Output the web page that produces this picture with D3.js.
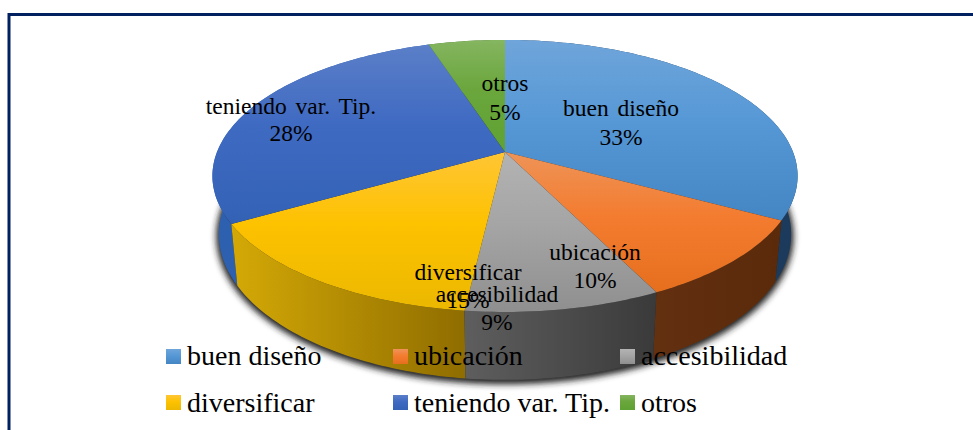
<!DOCTYPE html>
<html>
<head>
<meta charset="utf-8">
<script src="https://cdnjs.cloudflare.com/ajax/libs/d3/7.8.5/d3.min.js"></script>
<style>
  html, body { margin: 0; padding: 0; background: #fff; }
  svg { display: block; }
  text { font-family: "Liberation Serif", "Times New Roman", serif; fill: #000; }
</style>
</head>
<body>
<svg></svg>
<script>
const categories = ['buen diseño', 'ubicación', 'accesibilidad', 'diversificar', 'teniendo var. Tip.', 'otros'];
const shares = [32.9, 9.8, 9.15, 14.85, 28.3, 5];

const topLight = ['#6fa5da', '#ee9458', '#b3b3b3', '#ffc535', '#5b7fc8', '#85b560'];
const topMid = ['#5698d6', '#f37c30', '#a5a5a5', '#fdc200', '#3f6ac2', '#6aa63c'];
const topDark = ['#4485c4', '#e66f1e', '#8f8f8f', '#ebb800', '#3362b5', '#5fa232'];
const sideLeft = ['#1f3f60', '#633010', '#5e5e5e', '#d4a906', '#2e60b0', '#3f6b20'];
const sideRight = ['#1b3a5c', '#5a2a0b', '#3a3a3a', '#8f6d00', '#2e60b0', '#3f6b20'];

// label centres, [x, first baseline, second baseline]
const labelSpots = [[621, 116, 145], [595, 260, 288], [497, 302, 330], [468, 280, 308], [291, 114, 141], [505, 91, 120]];
const legendCols = [166, 393, 620];
const legendRows = [349, 395];
const legendBaselines = [365, 412];

const width = 973, height = 430;
const cx = 505, cy = 152;

// the disc is drawn in perspective, near edge bigger than far edge
const k = 0.176, A = 288, B = 131.8;
function topPoint(a) {
    let u = Math.sin(a), v = -Math.cos(a), w = 1 - k * v;
    return [cx + A * u / w, cy + B * v / w];
}
function bottomPoint(a) {
    let p = topPoint(a);
    return [cx + (p[0] - cx) * 0.978, p[1] + 56.7 + 0.07 * (p[1] - cy)];
}
function arcSteps(a0, a1) {
    let n = Math.ceil((a1 - a0) / 0.02);
    return d3.range(n + 1).map(i => a0 + (a1 - a0) * i / n);
}

const svg = d3.select('svg').attr('width', width).attr('height', height);
const defs = svg.append('defs');
const line = d3.line();

const slices = d3.pie().sort(null).value(d => d)(shares);

slices.forEach((s, i) => {
    let top = defs.append('linearGradient').attr('id', 'top' + i)
        .attr('x1', 0).attr('y1', 0).attr('x2', 0).attr('y2', 1);
    top.append('stop').attr('offset', 0).attr('stop-color', topLight[i]);
    top.append('stop').attr('offset', 0.45).attr('stop-color', topMid[i]);
    top.append('stop').attr('offset', 1).attr('stop-color', topDark[i]);
    let side = defs.append('linearGradient').attr('id', 'side' + i)
        .attr('x1', 0).attr('y1', 0).attr('x2', 1).attr('y2', 0);
    side.append('stop').attr('offset', 0).attr('stop-color', sideLeft[i]);
    side.append('stop').attr('offset', 1).attr('stop-color', sideRight[i]);
});

defs.append('filter').attr('id', 'blur')
    .attr('x', '-10%').attr('y', '-10%').attr('width', '120%').attr('height', '120%')
    .append('feGaussianBlur').attr('stdDeviation', 3);

// frame
svg.append('rect')
    .attr('x', 9).attr('y', 14.5)
    .attr('width', width + 20).attr('height', height + 20)
    .attr('fill', '#fff')
    .attr('stroke', '#002060').attr('stroke-width', 3);

// shadow under the pie
svg.append('path')
    .attr('d', line(arcSteps(0, 2 * Math.PI).map(bottomPoint)) + 'Z')
    .attr('transform', 'translate(0,2)')
    .attr('fill', '#222')
    .attr('stroke', '#222')
    .attr('stroke-width', 5)
    .attr('filter', 'url(#blur)');

// sides, back slices first
let sideOrder = slices.map((s, i) => i)
    .sort((a, b) => topPoint((slices[a].startAngle + slices[a].endAngle) / 2)[1]
                  - topPoint((slices[b].startAngle + slices[b].endAngle) / 2)[1]);

svg.append('g').selectAll('path')
    .data(sideOrder)
    .enter()
    .append('path')
    .attr('fill', i => 'url(#side' + i + ')')
    .attr('d', i => {
        let steps = arcSteps(slices[i].startAngle, slices[i].endAngle);
        return line(steps.map(topPoint).concat(steps.slice().reverse().map(bottomPoint))) + 'Z';
    });

// top face
svg.append('g').selectAll('path')
    .data(slices)
    .enter()
    .append('path')
    .attr('fill', (d, i) => 'url(#top' + i + ')')
    .attr('d', d => line([[cx, cy]].concat(arcSteps(d.startAngle, d.endAngle).map(topPoint))) + 'Z');

// data labels
let labels = svg.append('g').attr('font-size', 23.5).attr('text-anchor', 'middle').attr('word-spacing', 3);
categories.forEach((c, i) => {
    let spot = labelSpots[i];
    labels.append('text').attr('x', spot[0]).attr('y', spot[1]).text(c);
    labels.append('text').attr('x', spot[0]).attr('y', spot[2]).text(Math.round(shares[i]) + '%');
});

// legend
let legend = svg.append('g');
categories.forEach((c, i) => {
    let row = Math.floor(i / 3), x = legendCols[i % 3];
    legend.append('rect')
        .attr('x', x).attr('y', legendRows[row]).attr('width', 15).attr('height', 15)
        .attr('fill', 'url(#top' + i + ')');
    legend.append('text')
        .attr('x', x + 21).attr('y', legendBaselines[row])
        .attr('font-size', 28)
        .text(c);
});
</script>
</body>
</html>
